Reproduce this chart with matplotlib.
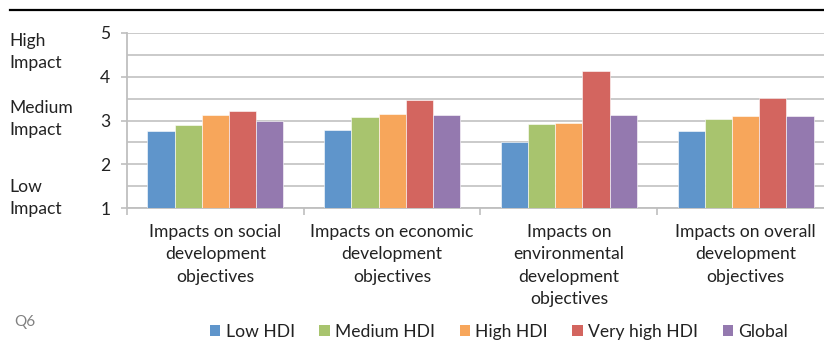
import matplotlib
matplotlib.use("Agg")
import matplotlib.pyplot as plt
from matplotlib.patches import Patch
import numpy as np

plt.rcParams['font.family'] = ['Lato', 'DejaVu Sans']

categories = ["Impacts on social\ndevelopment\nobjectives",
              "Impacts on economic\ndevelopment\nobjectives",
              "Impacts on\nenvironmental\ndevelopment\nobjectives",
              "Impacts on overall\ndevelopment\nobjectives"]
series_names = ["Low HDI", "Medium HDI", "High HDI", "Very high HDI", "Global"]
low_hdi = [2.76, 2.79, 2.51, 2.77]
medium_hdi = [2.90, 3.07, 2.91, 3.03]
high_hdi = [3.12, 3.14, 2.95, 3.11]
very_high_hdi = [3.22, 3.47, 4.12, 3.51]
global_vals = [3.00, 3.12, 3.13, 3.10]
series = [low_hdi, medium_hdi, high_hdi, very_high_hdi, global_vals]
colors = ["#5F95CB", "#A8C46E", "#F7A65B", "#D3655F", "#9479AF"]
impact_labels = ["High\nImpact", "Medium\nImpact", "Low\nImpact"]

W, H = 824, 340
fs = 12.6
fig = plt.figure(figsize=(W / 100, H / 100), dpi=100)
ax = fig.add_axes([127 / W, (H - 208.3) / H, 707 / W, (208.3 - 32.7) / H])

n = len(series)
bw = 0.154
x = np.arange(len(categories))
for i, (vals, c) in enumerate(zip(series, colors)):
    ax.bar(x + (i - (n - 1) / 2) * bw, np.array(vals) - 1, bottom=1, width=bw,
           color=c, edgecolor='white', linewidth=0.4, zorder=3)

ax.set_ylim(1, 5)
ax.set_xlim(-0.5, len(categories) - 0.5)
ax.set_yticks([1, 2, 3, 4, 5])
ax.set_yticks([1.5, 2.5, 3.5, 4.5], minor=True)
ax.yaxis.grid(True, which='both', color='#C6C6C6', linewidth=1.3, zorder=0)
ax.tick_params(axis='y', which='minor', length=0)
ax.tick_params(axis='y', which='major', length=4, color='#BFBFBF', width=1.2,
               labelsize=fs, pad=8, labelcolor='#222222')

ax.set_xticks(x)
ax.set_xticklabels(categories, fontsize=fs, linespacing=1.5, color='#222222')
ax.set_xticks(np.arange(len(categories) + 1) - 0.5, minor=True)
ax.tick_params(axis='x', which='major', length=0, pad=11)
ax.tick_params(axis='x', which='minor', length=5, color='#BFBFBF', width=1.2)

for s in ['top', 'right']:
    ax.spines[s].set_visible(False)
for s in ['left', 'bottom']:
    ax.spines[s].set_color('#BFBFBF')
    ax.spines[s].set_linewidth(1.3)

# top rule
fig.add_artist(plt.Line2D([10 / W, 1.0], [1 - 9.5 / H, 1 - 9.5 / H],
                          color='black', linewidth=1.6, transform=fig.transFigure))

for lbl, yc in zip(impact_labels, [52, 119, 198]):
    fig.text(9 / W, 1 - yc / H, lbl, fontsize=fs, va='center', ha='left',
             linespacing=1.5, color='#222222')

fig.text(14 / W, 1 - 322 / H, "Q6", fontsize=11, color='#808080', va='center')

handles = [Patch(facecolor=c, edgecolor='none') for c in colors]
fig.legend(handles, series_names, loc='center', bbox_to_anchor=(499 / W, 1 - 332 / H),
           ncol=5, frameon=False, fontsize=fs, handlelength=0.6, handleheight=0.6,
           handletextpad=0.3, columnspacing=1.4, labelcolor='#222222')

fig.savefig("out.png", dpi=100)
